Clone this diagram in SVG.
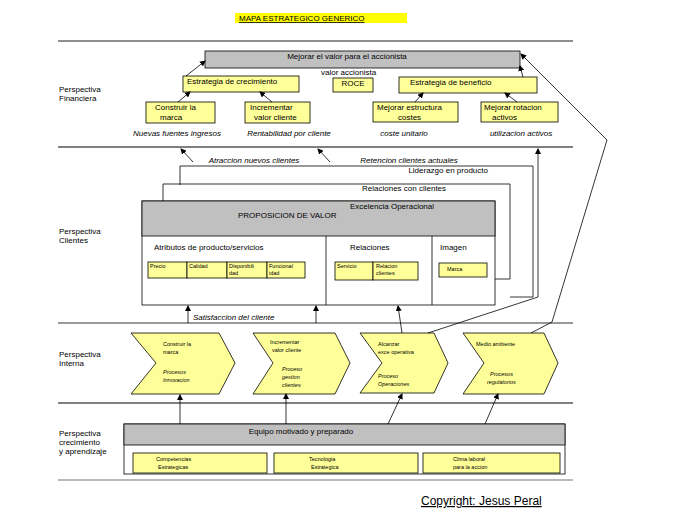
<svg xmlns="http://www.w3.org/2000/svg" width="700" height="525" viewBox="0 0 700 525">
<style>
text{font-family:"Liberation Sans",Arial,sans-serif;fill:#000}
.s{font-size:8px}.m{font-size:9px}.t{font-size:5.5px}.i{font-style:italic}.c{text-anchor:middle}
.y{fill:#ffff99;stroke:#000;stroke-width:0.8}.g{fill:#c0c0c0;stroke:#000;stroke-width:0.8}
.w{fill:#fff;stroke:#000;stroke-width:0.8}
.ln{stroke:#000;stroke-width:0.8;fill:none}
</style>
<defs><marker id="a" markerWidth="6" markerHeight="6" refX="5" refY="3" orient="auto" markerUnits="userSpaceOnUse"><path d="M0,0 L6,3 L0,6z" fill="#000"/></marker></defs>
<rect width="700" height="525" fill="#fff"/>
<g id="title"><rect x="235" y="13" width="172" height="10" fill="#ffff00"/><text x="239" y="21" font-size="8" text-decoration="underline">MAPA ESTRATEGICO GENERICO</text></g>
<g id="lines" stroke-width="1.2">
<line x1="58" y1="41" x2="573" y2="41" stroke="#222"/><line x1="58" y1="147" x2="573" y2="147" stroke="#000"/>
<line x1="58" y1="323" x2="573" y2="323" stroke="#777" stroke-width="1.5"/><line x1="58" y1="403" x2="573" y2="403" stroke="#000"/>
<line x1="58" y1="480" x2="573" y2="480" stroke="#777"/></g>
<g id="labels" class="s">
<text x="59" y="92">Perspectiva</text><text x="59" y="101">Financiera</text>
<text x="59" y="234">Perspectiva</text><text x="59" y="243">Clientes</text>
<text x="59" y="357">Perspectiva</text><text x="59" y="366">Interna</text>
<text x="59" y="436">Perspectiva</text><text x="59" y="445">crecimiento</text><text x="59" y="454">y aprendizaje</text></g>
<g id="accionista"><rect class="g" x="205" y="51" width="315" height="17"/><text class="s c" x="347" y="59">Mejorar el valor para el accionista</text></g>
<text class="s" x="321" y="75">valor accionista</text>
<g id="crec"><rect class="y" x="183" y="76" width="116" height="16"/><text class="s" x="187" y="84">Estrategia de crecimiento</text></g>
<g id="roce"><rect class="y" x="333" y="78" width="40" height="14"/><text class="s c" x="353" y="86">ROCE</text></g>
<g id="benef"><rect class="y" x="399" y="77" width="138" height="16"/><text class="s" x="410" y="85">Estrategia de beneficio</text></g>
<g id="f1"><rect class="y" x="146" y="102" width="69" height="21"/><text class="s" x="155" y="110">Construir la</text><text class="s" x="160" y="120">marca</text></g>
<g id="f2"><rect class="y" x="245" y="102" width="65" height="21"/><text class="s" x="250" y="110">Incrementar</text><text class="s" x="254" y="120">valor cliente</text></g>
<g id="f3"><rect class="y" x="373" y="102" width="85" height="20"/><text class="s" x="377" y="110">Mejorar estructura</text><text class="s" x="398" y="120">costes</text></g>
<g id="f4"><rect class="y" x="481" y="102" width="77" height="20"/><text class="s" x="484" y="110">Mejorar rotacion</text><text class="s" x="492" y="120">activos</text></g>
<g class="s i c"><text x="177" y="136">Nuevas fuentes ingresos</text><text x="289" y="136">Rentabilidad por cliente</text><text x="404" y="136">coste unitario</text><text x="521" y="136">utilizacion activos</text>
<text x="254" y="163">Atraccion nuevos clientes</text><text x="409" y="163">Retencion clientes actuales</text></g>
<g id="lid"><polyline class="ln" points="180,185 180,166 533,166 533,297 510,297"/><text class="s" x="488" y="173" text-anchor="end" dx="0">Liderazgo en producto</text></g>
<g id="rel"><polyline class="ln" points="163,201 163,184 510,184 510,279 495,279"/><text class="s" x="362" y="191">Relaciones con clientes</text></g>
<g id="prop"><rect class="w" x="142" y="201" width="353" height="104"/><rect class="g" x="142" y="201" width="353" height="35"/>
<text class="s" x="350" y="209">Excelencia Operacional</text><text class="s" x="238" y="218">PROPOSICION DE VALOR</text>
<line class="ln" x1="326" y1="236" x2="326" y2="305"/><line class="ln" x1="432" y1="236" x2="432" y2="305"/>
<text class="s" x="154" y="250">Atributos de producto/servicios</text><text class="s" x="350" y="250">Relaciones</text><text class="s" x="440" y="250">Imagen</text>
<rect class="y" x="148" y="262" width="39" height="16"/><rect class="y" x="187" y="262" width="40" height="16"/><rect class="y" x="227" y="262" width="40" height="16"/><rect class="y" x="267" y="262" width="38" height="16"/>
<rect class="y" x="335" y="262" width="38" height="18"/><rect class="y" x="373" y="262" width="45" height="18"/><rect class="y" x="439" y="263" width="48" height="14"/>
<g class="t"><text x="150" y="268">Precio</text><text x="189" y="268">Calidad</text><text x="229" y="268">Disponibili</text><text x="229" y="275">dad</text><text x="269" y="268">Funcional</text><text x="269" y="275">idad</text>
<text x="337" y="268">Servicio</text><text x="376" y="268">Relacion</text><text x="376" y="275">clientes</text><text x="447" y="271">Marca</text></g></g>
<text class="s i" x="193" y="320">Satisfaccion del cliente</text>
<g id="p1"><polygon class="y" points="131,333 219,333 235,363 219,394 131,394 156,363"/><g class="t"><text x="163" y="346">Construir la</text><text x="163" y="354">marca</text><text x="163" y="374" font-style="italic">Procesos</text><text x="163" y="382" font-style="italic">Innovacion</text></g></g>
<g id="p2"><polygon class="y" points="253,333 335,333 350,363 335,394 253,394 273,363"/><g class="t"><text x="270" y="344">Incrementar</text><text x="272" y="352">valor cliente</text><text x="282" y="371" font-style="italic">Proceso</text><text x="282" y="379" font-style="italic">gestion</text><text x="282" y="387" font-style="italic">clientes</text></g></g>
<g id="p3"><polygon class="y" points="360,333 434,333 448,363 434,393 360,393 382,363"/><g class="t"><text x="378" y="346">Alcanzar</text><text x="378" y="354">exce operativa</text><text x="378" y="378" font-style="italic">Proceso</text><text x="378" y="386" font-style="italic">Operaciones</text></g></g>
<g id="p4"><polygon class="y" points="463,333 544,333 558,363 544,394 463,394 484,363"/><g class="t"><text x="476" y="346">Medio ambiente</text><text x="490" y="376" font-style="italic">Procesos</text><text x="487" y="384" font-style="italic">regulatorios</text></g></g>
<g id="equipo"><rect class="w" x="124" y="424" width="441" height="50"/><rect class="g" x="124" y="424" width="441" height="21"/><text class="s c" x="301" y="434">Equipo motivado y preparado</text>
<rect class="y" x="133" y="453" width="134" height="20"/><rect class="y" x="274" y="453" width="144" height="20"/><rect class="y" x="423" y="453" width="137" height="20"/>
<g class="t"><text x="156" y="461">Competencias</text><text x="158" y="469">Estrategicas</text><text x="309" y="461">Tecnologia</text><text x="311" y="469">Estrategica</text><text x="453" y="461">Clima laboral</text><text x="453" y="469">para la accion</text></g></g>
<g id="connectors" class="ln" marker-end="url(#a)">
<line x1="186" y1="76" x2="205" y2="61"/><line x1="523" y1="77" x2="520" y2="66"/>
<line x1="178" y1="102" x2="190" y2="92"/><line x1="272" y1="102" x2="260" y2="92"/><line x1="415" y1="102" x2="423" y2="93"/><line x1="517" y1="102" x2="505" y2="93"/>
<polyline points="531,333 552,322 607,140 521,54"/>
<polyline points="428,333 538,297 538,149"/>
<line x1="193" y1="162" x2="181" y2="149"/><line x1="330" y1="162" x2="318" y2="149"/>
<line x1="188" y1="323" x2="188" y2="306"/><line x1="316" y1="323" x2="316" y2="306"/><line x1="402" y1="333" x2="398" y2="306"/>
<line x1="180" y1="424" x2="180" y2="395"/><line x1="286" y1="424" x2="286" y2="394"/><line x1="388" y1="424" x2="402" y2="394"/><line x1="485" y1="424" x2="498" y2="394"/>
</g>
<text x="421" y="505" font-size="12" text-decoration="underline">Copyright: Jesus Peral</text>
</svg>
